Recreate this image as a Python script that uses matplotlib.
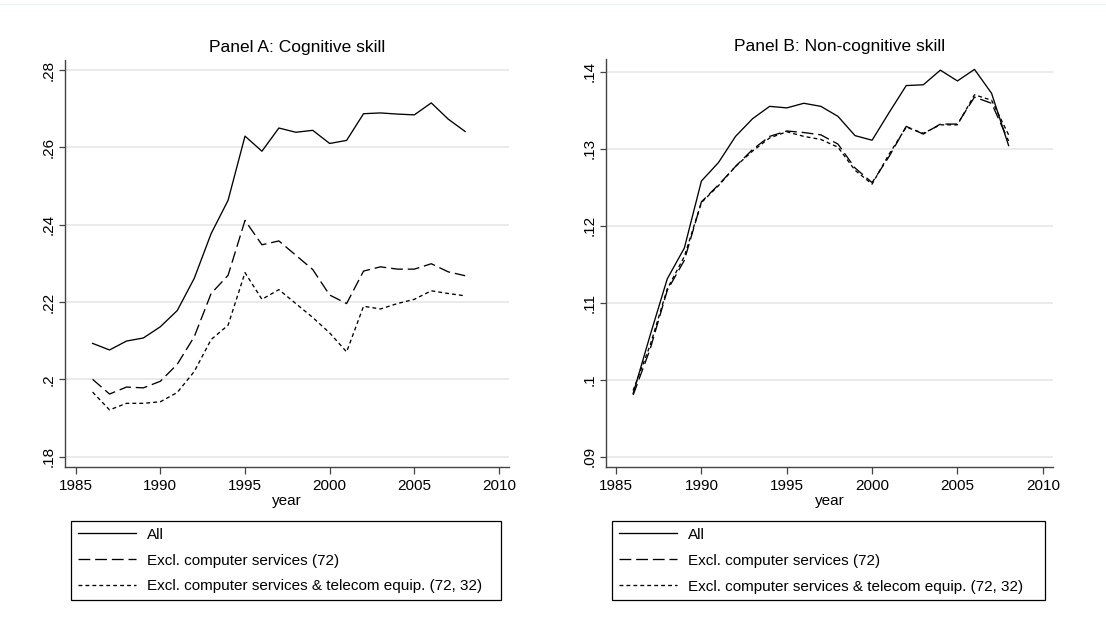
"""Two-panel skill-intensity chart (cognitive / non-cognitive), Stata look."""

from __future__ import annotations

import matplotlib
matplotlib.use("Agg")
import matplotlib.pyplot as plt
from matplotlib.lines import Line2D
from matplotlib.ticker import FuncFormatter


years = list(range(1986, 2009))

series_labels = [
    "All",
    "Excl. computer services (72)",
    "Excl. computer services & telecom equip. (72, 32)",
]

# Panel A: cognitive skill
cog_all = [0.2093, 0.2076, 0.2099, 0.2107, 0.2136, 0.2178, 0.2261, 0.2377,
           0.2463, 0.2629, 0.2590, 0.2650, 0.2639, 0.2644, 0.2610, 0.2618,
           0.2687, 0.2689, 0.2686, 0.2684, 0.2715, 0.2673, 0.2641]
cog_excl72 = [0.2000, 0.1962, 0.1980, 0.1978, 0.1995, 0.2039, 0.2110, 0.2222,
              0.2269, 0.2411, 0.2348, 0.2358, 0.2321, 0.2284, 0.2218, 0.2196,
              0.2280, 0.2291, 0.2285, 0.2285, 0.2299, 0.2278, 0.2268]
cog_excl72_32 = [0.1967, 0.1921, 0.1938, 0.1938, 0.1942, 0.1966, 0.2020, 0.2103,
                 0.2140, 0.2276, 0.2207, 0.2232, 0.2196, 0.2160, 0.2120, 0.2071,
                 0.2189, 0.2182, 0.2196, 0.2207, 0.2229, 0.2222, 0.2216]

# Panel B: non-cognitive skill
noncog_all = [0.0982, 0.1058, 0.1131, 0.1171, 0.1258, 0.1282, 0.1316, 0.1339,
              0.1355, 0.1353, 0.1359, 0.1355, 0.1342, 0.1317, 0.1311, 0.1347,
              0.1382, 0.1383, 0.1402, 0.1388, 0.1403, 0.1372, 0.1304]
noncog_excl72 = [0.0980, 0.1040, 0.1116, 0.1155, 0.1231, 0.1253, 0.1277, 0.1299,
                 0.1316, 0.1323, 0.1321, 0.1318, 0.1306, 0.1275, 0.1256, 0.1290,
                 0.1329, 0.1319, 0.1332, 0.1332, 0.1367, 0.1359, 0.1310]
noncog_excl72_32 = [0.0986, 0.1045, 0.1118, 0.1160, 0.1230, 0.1252, 0.1277, 0.1297,
                    0.1314, 0.1322, 0.1316, 0.1312, 0.1302, 0.1272, 0.1254, 0.1293,
                    0.1328, 0.1320, 0.1331, 0.1331, 0.1370, 0.1363, 0.1318]

x_ticks = [1985, 1990, 1995, 2000, 2005, 2010]
cog_ticks = [0.18, 0.20, 0.22, 0.24, 0.26, 0.28]
noncog_ticks = [0.09, 0.10, 0.11, 0.12, 0.13, 0.14]

DASHES = [None, (8.5, 3.5), (2.8, 2.2)]
W, H = 1106, 635


def _stata_fmt(v: float, _pos=None) -> str:
    s = f"{v:.2f}".rstrip("0")
    return s[1:] if s.startswith("0") else s


def _panel(ax, title: str, data: list[list[float]], yticks: list[float],
           xlim: tuple[float, float], ylim: tuple[float, float]) -> None:
    for ys, label, dash in zip(data, series_labels, DASHES):
        ln, = ax.plot(years, ys, color="black", lw=0.95, label=label)
        if dash is not None:
            ln.set_dashes(dash)
    ax.set_xlim(*xlim)
    ax.set_ylim(*ylim)
    ax.set_xticks(x_ticks)
    ax.set_yticks(yticks)
    ax.yaxis.set_major_formatter(FuncFormatter(_stata_fmt))
    ax.grid(True, axis="y", color="#e6e6e6", lw=1.2)
    ax.set_axisbelow(True)
    for side in ("top", "right"):
        ax.spines[side].set_visible(False)
    for side in ("left", "bottom"):
        ax.spines[side].set_color("#444444")
        ax.spines[side].set_linewidth(1.0)
    ax.tick_params(axis="x", length=5, width=0.9, color="#444444", pad=4,
                   labelsize=11)
    ax.tick_params(axis="y", length=4, width=0.9, color="#444444", pad=3,
                   labelsize=11, labelrotation=90)
    for t in ax.get_yticklabels():
        t.set_va("center")
    ax.set_xlabel("year", fontsize=11, labelpad=0)
    ax.set_title(title, fontsize=12.5, x=0.522, pad=6)
    ax.legend(loc="upper left", bbox_to_anchor=(0.013, -0.132, 0.969, 0.0),
              mode="expand", frameon=True, fancybox=False, edgecolor="black",
              framealpha=1, fontsize=11, handlelength=3.8, handletextpad=0.75,
              labelspacing=0.78, borderpad=0.45, borderaxespad=0)
    ax.get_legend().get_frame().set_linewidth(0.9)


def main() -> None:
    plt.rcParams["font.family"] = ["Liberation Sans", "DejaVu Sans"]
    plt.rcParams["lines.scale_dashes"] = False
    fig = plt.figure(figsize=(W / 100, H / 100), dpi=100)
    ax_a = fig.add_axes([65 / W, 1 - 467 / H, 444 / W, 407 / H])
    ax_b = fig.add_axes([606 / W, 1 - 467 / H, 447 / W, 408 / H])
    _panel(ax_a, "Panel A: Cognitive skill",
           [cog_all, cog_excl72, cog_excl72_32], cog_ticks,
           (1984.37, 2010.59), (0.17733, 0.28259))
    _panel(ax_b, "Panel B: Non-cognitive skill",
           [noncog_all, noncog_excl72, noncog_excl72_32], noncog_ticks,
           (1984.41, 2010.6), (0.08866, 0.14165))
    # faint border line across the top of the graph region
    fig.add_artist(Line2D([0, 1], [1 - 4 / H, 1 - 4 / H],
                          transform=fig.transFigure, color="#eef2f2", lw=1))
    fig.savefig("out.png", dpi=100, facecolor="white")
    plt.close(fig)


if __name__ == "__main__":
    main()
